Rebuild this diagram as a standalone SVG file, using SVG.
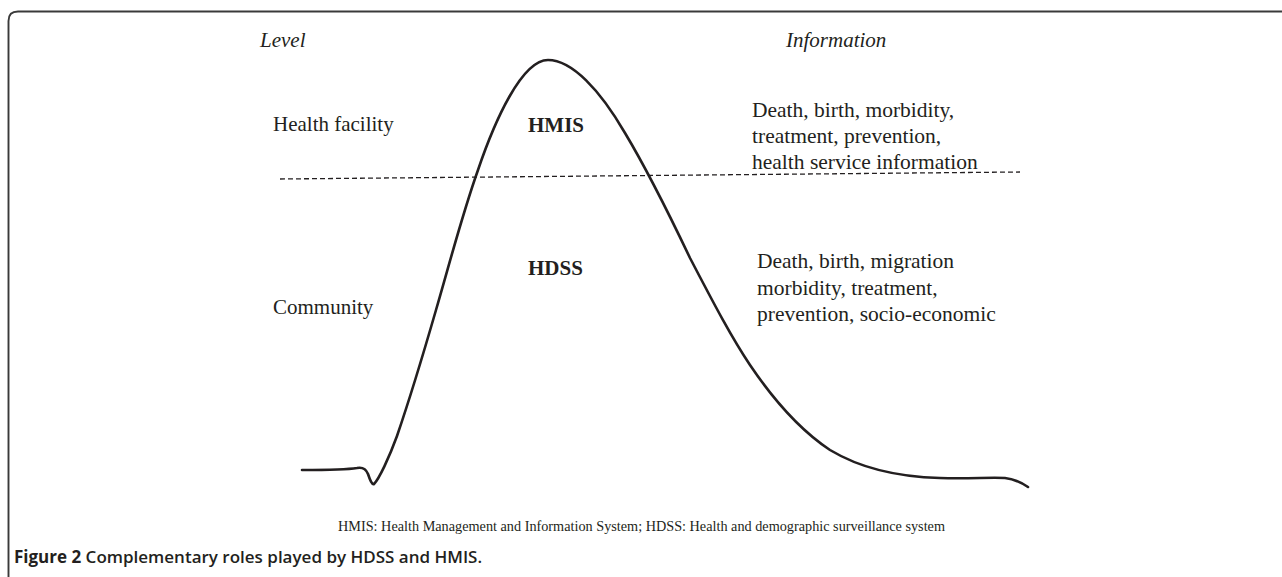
<svg xmlns="http://www.w3.org/2000/svg" width="1282" height="577" viewBox="0 0 1282 577">
<style>
.t{font-family:"Liberation Serif","Times New Roman",serif;font-size:21px;fill:#231f20}
.s{font-size:21.5px}
.i{font-style:italic}
.b{font-weight:bold}
.fn{font-family:"Liberation Serif","Times New Roman",serif;font-size:14px;fill:#231f20}
.cap{font-family:"Open Sans","Liberation Sans",sans-serif;font-size:17px;fill:#231f20}
.curve{fill:none;stroke:#231f20;stroke-width:2.6;stroke-linecap:round;stroke-linejoin:round}
.dash{fill:none;stroke:#231f20;stroke-width:1.3;stroke-dasharray:5,3}
</style>
<rect width="1282" height="577" fill="#ffffff"/>
<path id="frame" d="M8.5,577 L8.5,21 Q8.5,11.5 18,11.5 L1282,11.5" fill="none" stroke="#3a3a3a" stroke-width="1.9"/>
<g id="connectors">
<path id="dashed-divider" class="dash" d="M280,179 L1020,172"/>
<path id="curve" class="curve" d="M302,470 C320,470 345,470 357,468 C362,467 366,469 368,474 C370,480 372,485 374,484 C379,479 389,458 397,436 C410,398 423,355 436,310 C450,262 462,215 478,170 C495,120 522,60 548,60 C572,60 600,90 625,133 C640,158 660,195 690,258 C712,300 730,335 750,365 C775,402 800,430 830,450 C860,468 900,477 940,478 C970,479 990,477 1005,478 C1015,479 1022,483 1028,487"/>
</g>
<g id="headers">
<text class="t i" x="260" y="47">Level</text>
<text class="t i" x="786" y="47">Information</text>
</g>
<g id="level-health-facility">
<text class="t" x="273" y="131">Health facility</text>
</g>
<g id="level-community">
<text class="t" x="273" y="314">Community</text>
</g>
<g id="node-hmis">
<text class="t b" x="528" y="132">HMIS</text>
</g>
<g id="node-hdss">
<text class="t b" x="528" y="275">HDSS</text>
</g>
<g id="info-facility">
<text class="t s" x="752" y="117">Death, birth, morbidity,</text>
<text class="t s" x="752" y="143">treatment, prevention,</text>
<text class="t s" x="752" y="169">health service information</text>
</g>
<g id="info-community">
<text class="t s" x="757" y="268">Death, birth, migration</text>
<text class="t s" x="757" y="295">morbidity, treatment,</text>
<text class="t s" x="757" y="321">prevention, socio-economic</text>
</g>
<g id="footnote">
<text class="fn" x="338" y="531" textLength="607" lengthAdjust="spacingAndGlyphs">HMIS: Health Management and Information System; HDSS: Health and demographic surveillance system</text>
</g>
<g id="caption">
<text class="cap" x="14" y="563"><tspan font-weight="700">Figure 2</tspan><tspan font-weight="600"> Complementary roles played by HDSS and HMIS.</tspan></text>
</g>
</svg>
